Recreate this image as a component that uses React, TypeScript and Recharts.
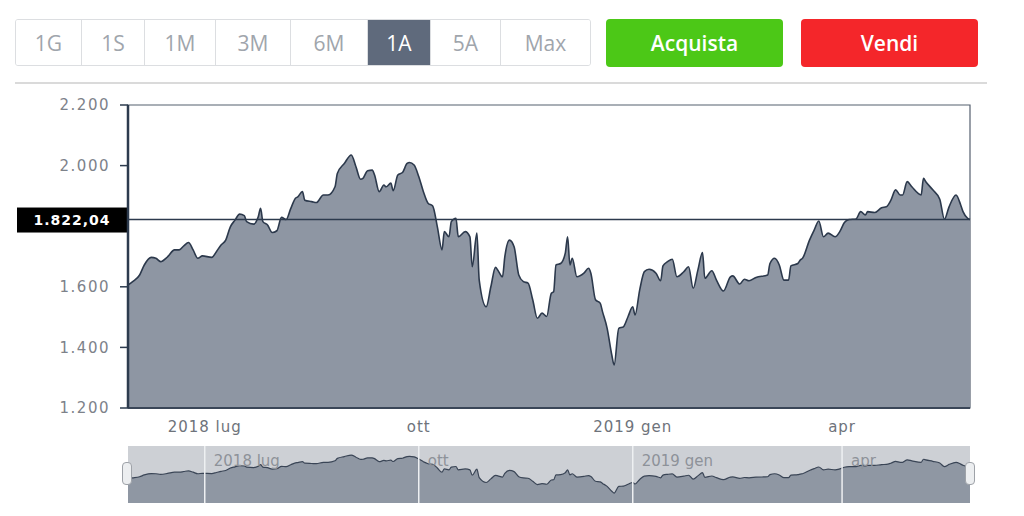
import { AreaChart, Area, XAxis, YAxis, ReferenceLine, ReferenceArea } from 'recharts'

const dates = [
  '2018-05-29', '2018-05-31', '2018-06-03', '2018-06-05', '2018-06-08', '2018-06-10', '2018-06-12', '2018-06-15',
  '2018-06-18', '2018-06-20', '2018-06-22', '2018-06-24', '2018-06-26', '2018-06-28', '2018-06-30', '2018-07-04',
  '2018-07-06', '2018-07-08', '2018-07-10', '2018-07-12', '2018-07-14', '2018-07-16', '2018-07-18', '2018-07-19',
  '2018-07-22', '2018-07-24', '2018-07-25', '2018-07-26', '2018-07-28', '2018-07-30', '2018-08-01', '2018-08-03',
  '2018-08-05', '2018-08-07', '2018-08-09', '2018-08-10', '2018-08-12', '2018-08-13', '2018-08-16', '2018-08-18',
  '2018-08-21', '2018-08-23', '2018-08-26', '2018-08-27', '2018-08-30', '2018-09-02', '2018-09-04', '2018-09-06',
  '2018-09-07', '2018-09-09', '2018-09-11', '2018-09-12', '2018-09-14', '2018-09-16', '2018-09-17', '2018-09-19',
  '2018-09-20', '2018-09-22', '2018-09-24', '2018-09-26', '2018-09-27', '2018-09-29', '2018-10-01', '2018-10-03',
  '2018-10-05', '2018-10-07', '2018-10-09', '2018-10-11', '2018-10-12', '2018-10-14', '2018-10-15', '2018-10-17',
  '2018-10-18', '2018-10-21', '2018-10-23', '2018-10-24', '2018-10-26', '2018-10-27', '2018-10-30', '2018-11-01',
  '2018-11-03', '2018-11-04', '2018-11-06', '2018-11-07', '2018-11-09', '2018-11-11', '2018-11-13', '2018-11-15',
  '2018-11-17', '2018-11-19', '2018-11-21', '2018-11-23', '2018-11-25', '2018-11-27', '2018-11-28', '2018-11-29',
  '2018-12-01', '2018-12-03', '2018-12-04', '2018-12-05', '2018-12-06', '2018-12-08', '2018-12-11', '2018-12-13',
  '2018-12-14', '2018-12-16', '2018-12-18', '2018-12-19', '2018-12-21', '2018-12-23', '2018-12-24', '2018-12-26',
  '2018-12-28', '2018-12-30', '2019-01-01', '2019-01-02', '2019-01-04', '2019-01-06', '2019-01-08', '2019-01-11',
  '2019-01-13', '2019-01-14', '2019-01-16', '2019-01-18', '2019-01-20', '2019-01-23', '2019-01-25', '2019-01-27',
  '2019-01-29', '2019-01-31', '2019-02-01', '2019-02-04', '2019-02-06', '2019-02-09', '2019-02-12', '2019-02-13',
  '2019-02-16', '2019-02-18', '2019-02-20', '2019-02-23', '2019-02-28', '2019-03-01', '2019-03-03', '2019-03-05',
  '2019-03-07', '2019-03-09', '2019-03-10', '2019-03-13', '2019-03-14', '2019-03-15', '2019-03-18', '2019-03-20',
  '2019-03-22', '2019-03-24', '2019-03-26', '2019-03-29', '2019-03-31', '2019-04-02', '2019-04-04', '2019-04-07',
  '2019-04-09', '2019-04-11', '2019-04-12', '2019-04-15', '2019-04-18', '2019-04-20', '2019-04-22', '2019-04-24',
  '2019-04-26', '2019-04-27', '2019-04-29', '2019-05-01', '2019-05-05', '2019-05-06', '2019-05-07', '2019-05-10',
  '2019-05-13', '2019-05-15', '2019-05-17', '2019-05-20', '2019-05-22', '2019-05-23', '2019-05-25', '2019-05-26',
]

const prices = [
  1606, 1617, 1639, 1672, 1697, 1694, 1683, 1699,
  1722, 1722, 1735, 1746, 1722, 1694, 1702, 1697,
  1716, 1738, 1754, 1798, 1820, 1840, 1835, 1815,
  1807, 1831, 1859, 1815, 1804, 1779, 1785, 1829,
  1822, 1859, 1892, 1897, 1914, 1886, 1881, 1878,
  1903, 1903, 1930, 1974, 2007, 2035, 1996, 1955,
  1958, 1983, 1985, 1969, 1914, 1936, 1930, 1942,
  1917, 1969, 1977, 2007, 2010, 2002, 1964, 1914,
  1876, 1867, 1798, 1722, 1782, 1765, 1815, 1826,
  1765, 1782, 1765, 1666, 1777, 1622, 1534, 1600,
  1664, 1655, 1633, 1699, 1754, 1732, 1639, 1617,
  1612, 1557, 1496, 1513, 1502, 1579, 1584, 1672,
  1677, 1711, 1765, 1672, 1694, 1633, 1645, 1661,
  1645, 1557, 1546, 1518, 1463, 1375, 1342, 1463,
  1468, 1502, 1534, 1507, 1590, 1650, 1658, 1645,
  1620, 1669, 1683, 1691, 1633, 1650, 1666, 1595,
  1655, 1713, 1628, 1653, 1622, 1586, 1633, 1636,
  1609, 1625, 1620, 1631, 1639, 1677, 1694, 1672,
  1622, 1622, 1669, 1677, 1688, 1694, 1754, 1787,
  1817, 1765, 1777, 1765, 1782, 1812, 1822, 1824,
  1848, 1837, 1848, 1845, 1861, 1864, 1886, 1920,
  1903, 1903, 1947, 1930, 1903, 1958, 1947, 1920,
  1889, 1823, 1864, 1903, 1870, 1848, 1826, 1822.04,
]

const lastPrice = 1822.04
const yTicks = [1200, 1400, 1600, 2000, 2200]
const monthDates = ['2018-07-01', '2018-10-01', '2019-01-01', '2019-04-01']
const monthLabels = ['2018 lug', 'ott', '2019 gen', 'apr']
const ranges = ['1G', '1S', '1M', '3M', '6M', '1A', '5A', 'Max']
const activeRange = '1A'

const toTime = (d: string) => Date.parse(d + 'T00:00:00Z')
const data = dates.map((d, i) => ({ t: toTime(d), v: prices[i] }))
const monthTicks = monthDates.map(toTime)
const xDomain = [data[0].t, data[data.length - 1].t]

const fmtThousands = (n: number) => {
  const s = Math.round(n).toString()
  return s.length > 3 ? s.slice(0, -3) + '.' + s.slice(-3) : s
}
const fmtPrice = (n: number) => {
  const [i, d] = n.toFixed(2).split('.')
  return fmtThousands(Number(i)) + ',' + d
}
const monthLabel = (t: number) => monthLabels[monthTicks.indexOf(t)] ?? ''

const AXIS_FONT = '"DejaVu Sans", Verdana, sans-serif'
const UI_FONT = '"Open Sans", sans-serif'
const btnWidths = [65, 63, 71, 75, 77, 63, 70, 90]

function PriceTag({ viewBox }: any) {
  if (!viewBox) return null
  const { x, y } = viewBox
  return (
    <g>
      <rect x={x - 111} y={y - 12} width={110} height={25} fill="#000" />
      <text
        x={x - 56}
        y={y + 1}
        textAnchor="middle"
        dominantBaseline="middle"
        fill="#fff"
        fontFamily={AXIS_FONT}
        fontWeight="bold"
        fontSize={14}
        letterSpacing={1}
      >
        {fmtPrice(lastPrice)}
      </text>
    </g>
  )
}

export default function App() {
  return (
    <div style={{ position: 'absolute', left: 0, top: 0, width: 1024, height: 516, background: '#fff', overflow: 'hidden' }}>
      {/* range selector */}
      <div
        style={{
          position: 'absolute', left: 15, top: 19, height: 47, display: 'flex',
          border: '1px solid #dcdee1', borderRadius: 3, overflow: 'hidden', boxSizing: 'border-box',
        }}
      >
        {ranges.map((r, i) => (
          <div
            key={r}
            style={{
              width: btnWidths[i], height: '100%', boxSizing: 'border-box',
              borderLeft: i === 0 ? 'none' : '1px solid #dcdee1',
              background: r === activeRange ? '#5f6a7c' : '#fff',
              color: r === activeRange ? '#fff' : '#a0a5ac',
              fontFamily: UI_FONT, fontSize: 21, display: 'flex', alignItems: 'center', justifyContent: 'center',
            }}
          >
            {r}
          </div>
        ))}
      </div>
      <div
        style={{
          position: 'absolute', left: 606, top: 19, width: 177, height: 48, background: '#4cc817', borderRadius: 4,
          color: '#fff', fontFamily: UI_FONT, fontSize: 21, fontWeight: 600, display: 'flex', alignItems: 'center', justifyContent: 'center',
        }}
      >
        Acquista
      </div>
      <div
        style={{
          position: 'absolute', left: 801, top: 19, width: 177, height: 48, background: '#f4262a', borderRadius: 4,
          color: '#fff', fontFamily: UI_FONT, fontSize: 21, fontWeight: 600, display: 'flex', alignItems: 'center', justifyContent: 'center',
        }}
      >
        Vendi
      </div>
      <div style={{ position: 'absolute', left: 15, top: 82, width: 972, height: 2, background: '#dadada' }} />

      {/* main chart */}
      <div style={{ position: 'absolute', left: 0, top: 90 }}>
        <AreaChart width={1024} height={350} data={data} margin={{ top: 15, right: 54, bottom: 0, left: 0 }}>
          <ReferenceArea y1={1200} y2={2200} fill="none" stroke="#55606f" strokeWidth={1.2} ifOverflow="visible" />
          <XAxis
            dataKey="t"
            type="number"
            scale="time"
            domain={xDomain}
            ticks={monthTicks}
            tickFormatter={monthLabel}
            height={32}
            tickLine={false}
            tickMargin={7}
            axisLine={{ stroke: '#3a4658', strokeWidth: 2 }}
            tick={{ fill: '#6e737b', fontSize: 15, fontFamily: AXIS_FONT, letterSpacing: 1 }}
          />
          <YAxis
            domain={[1200, 2200]}
            ticks={yTicks}
            width={128}
            tickSize={8}
            tickMargin={10}
            allowDataOverflow
            tickFormatter={fmtThousands}
            axisLine={{ stroke: '#2d3b4e', strokeWidth: 2.5 }}
            tickLine={{ stroke: '#2d3b4e', strokeWidth: 1.5 }}
            tick={{ fill: '#7d828a', fontSize: 15, fontFamily: AXIS_FONT, letterSpacing: 1.5 }}
          />
          <Area
            type="monotone"
            dataKey="v"
            stroke="#2c394c"
            strokeWidth={1.6}
            fill="#8e96a3"
            fillOpacity={1}
            isAnimationActive={false}
            dot={false}
            activeDot={false}
          />
          <ReferenceLine y={lastPrice} stroke="#2c3a4d" strokeWidth={1.5} label={<PriceTag />} />
        </AreaChart>
      </div>

      {/* range slider */}
      <div style={{ position: 'absolute', left: 128, top: 446, width: 842, height: 57, background: '#cdd0d5' }}>
        <AreaChart width={842} height={57} data={data} margin={{ top: 0, right: 0, bottom: 0, left: 0 }}>
          <XAxis dataKey="t" type="number" scale="time" domain={xDomain} hide />
          <YAxis domain={[1160, 2200]} hide allowDataOverflow />
          <Area
            type="monotone"
            dataKey="v"
            stroke="#3a4556"
            strokeWidth={1.2}
            fill="#8f97a3"
            fillOpacity={1}
            isAnimationActive={false}
            dot={false}
            activeDot={false}
          />
          {monthTicks.map((t, i) => (
            <ReferenceLine
              key={t}
              x={t}
              stroke="#eef0f2"
              strokeWidth={1.5}
              label={{ value: monthLabels[i], position: 'insideTopLeft', offset: 9, fill: '#8d9299', fontSize: 15, fontFamily: AXIS_FONT }}
            />
          ))}
        </AreaChart>
      </div>
      {[122, 965].map((left) => (
        <div
          key={left}
          style={{
            position: 'absolute', left, top: 462, width: 10, height: 23, boxSizing: 'border-box',
            background: '#eceef0', border: '1px solid #9ea2a8', borderRadius: 4,
          }}
        />
      ))}
    </div>
  )
}
